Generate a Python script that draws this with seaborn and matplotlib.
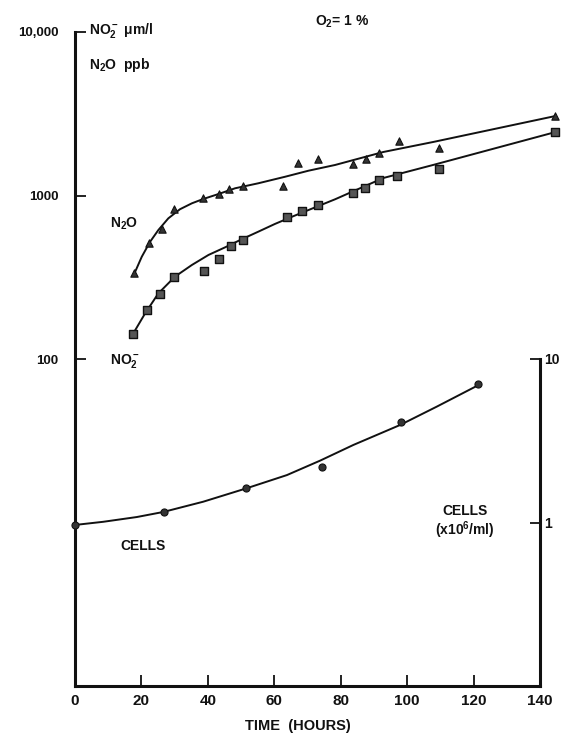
import matplotlib
matplotlib.use("Agg")
import matplotlib.pyplot as plt
import numpy as np
import pandas as pd
import seaborn as sns

# ---- measured points ----
n2o_time = [17.8, 22.3, 26.2, 29.8, 38.6, 43.4, 46.4, 50.6, 62.7, 67.2, 73.2,
            83.7, 87.7, 91.6, 97.6, 109.6, 144.6]
n2o_ppb = [336, 512, 624, 826, 966, 1021, 1096, 1143, 1143, 1582, 1673,
           1560, 1673, 1820, 2155, 1954, 3080]

no2_time = [17.5, 21.7, 25.6, 29.8, 38.9, 43.4, 47.0, 50.6, 63.9, 68.4, 73.2,
            83.7, 87.3, 91.6, 97.0, 109.6, 144.6]
no2_um = [142, 200, 250, 318, 345, 409, 491, 535, 740, 804, 875,
          1035, 1111, 1245, 1315, 1452, 2442]

cell_time = [0, 26.8, 51.4, 74.5, 98.1, 121.2]
cell_count = [0.97, 1.16, 1.62, 2.19, 4.14, 7.03]

# ---- hand-fitted curves through the points ----
n2o_fit_time = [17.9, 20.1, 22.6, 25.1, 28.1, 31.6, 35.2, 38.6, 43.2, 48.2,
                55.2, 63.3, 70.3, 78.3, 92.8, 107.8, 144.6]
n2o_fit_ppb = [334, 422, 521, 615, 725, 824, 896, 952, 1021, 1107,
               1188, 1303, 1418, 1537, 1845, 2124, 3062]

no2_fit_time = [17.6, 21.1, 25.1, 30.1, 35.2, 40.2, 45.2, 50.2, 55.2, 60.2,
                65.3, 70.3, 78.3, 92.8, 107.8, 144.6]
no2_fit_um = [144, 190, 252, 319, 376, 433, 482, 540, 601, 670,
              741, 815, 948, 1279, 1537, 2442]

cell_fit_time = [0, 8.5, 18.6, 26.6, 38.6, 51.7, 63.8, 73.8, 83.8, 97.9, 108.9, 121.5]
cell_fit_count = [0.966, 1.01, 1.08, 1.16, 1.34, 1.62, 1.95, 2.39, 2.98, 3.95, 5.11, 6.93]

x_ticks = [0, 20, 40, 60, 80, 100, 120, 140]
left_ticks = [100, 1000, 10000]
left_labels = ["100", "1000", "10,000"]
right_ticks = [1, 10]
right_labels = ["1", "10"]

sns.set_style("ticks")
plt.rcParams["font.family"] = ["Liberation Sans Narrow", "Liberation Sans", "DejaVu Sans"]
plt.rcParams["font.weight"] = "bold"
plt.rcParams["mathtext.default"] = "regular"

W, H = 562, 738
fig = plt.figure(figsize=(W / 100, H / 100), dpi=100)
fig.patch.set_facecolor("white")
ax = fig.add_axes([75 / W, 52 / H, 465 / W, 654 / H])
ax.set_facecolor("white")
ax2 = ax.twinx()

ink = "#111111"
lw = 1.4

# N2O and nitrite on the left scale
sns.lineplot(x=n2o_fit_time, y=n2o_fit_ppb, ax=ax, color=ink, lw=lw,
             sort=False, estimator=None, clip_on=False)
sns.lineplot(x=no2_fit_time, y=no2_fit_um, ax=ax, color=ink, lw=lw,
             sort=False, estimator=None, clip_on=False)
sns.scatterplot(x=n2o_time, y=n2o_ppb, ax=ax, marker="^", s=28,
                color="#333333", edgecolor=ink, linewidth=0.8, clip_on=False, zorder=5)
sns.scatterplot(x=no2_time, y=no2_um, ax=ax, marker="s", s=34,
                color="#555555", edgecolor=ink, linewidth=1.0, clip_on=False, zorder=5)

# cell counts on the right scale
sns.lineplot(x=cell_fit_time, y=cell_fit_count, ax=ax2, color=ink, lw=lw,
             sort=False, estimator=None, clip_on=False)
sns.scatterplot(x=cell_time, y=cell_count, ax=ax2, marker="o", s=26,
                color="#333333", edgecolor=ink, linewidth=0.8, clip_on=False, zorder=5)

for a in (ax, ax2):
    a.set_xlim(0, 140)
    a.set_yscale("log")
ax.set_ylim(1, 10000)
ax2.set_ylim(0.1, 1000)

ax.set_xticks(x_ticks)
ax.set_xticklabels([str(t) for t in x_ticks], fontsize=11, fontweight="bold")
ax.tick_params(axis="x", direction="in", length=8, width=1.3, pad=6, colors=ink)

ax.set_yticks(left_ticks)
ax.set_yticklabels(left_labels, fontsize=9.5, fontweight="bold")
ax.yaxis.set_minor_locator(matplotlib.ticker.NullLocator())
ax.tick_params(axis="y", direction="in", length=8, width=1.3, pad=12, colors=ink)

ax2.set_yticks(right_ticks)
ax2.set_yticklabels(right_labels, fontsize=10, fontweight="bold")
ax2.yaxis.set_minor_locator(matplotlib.ticker.NullLocator())
ax2.tick_params(axis="y", direction="in", length=7, width=1.3, pad=3, colors=ink)

for s in ("top", "right"):
    ax.spines[s].set_visible(False)
for s in ("top", "left", "bottom"):
    ax2.spines[s].set_visible(False)
ax.spines["left"].set_linewidth(2.2)
ax.spines["bottom"].set_linewidth(2.2)
ax2.spines["right"].set_linewidth(2.2)
ax2.spines["right"].set_bounds(0.1, 10)
for s in ("left", "bottom"):
    ax.spines[s].set_color(ink)
ax2.spines["right"].set_color(ink)

ax.set_xlabel("")
ax.set_ylabel("")
ax2.set_ylabel("")


def px(x, y):
    return x / W, 1 - y / H


txt = dict(color=ink, fontweight="bold")
fig.text(*px(89, 31), r"NO$_2^-$ $\mu$m/l", fontsize=10, va="center", ha="left", **txt)
fig.text(*px(89, 65), r"N$_2$O  ppb", fontsize=10, va="center", ha="left", **txt)
fig.text(*px(315, 22), r"O$_2$= 1 %", fontsize=10, va="center", ha="left", **txt)
fig.text(*px(110, 224), r"N$_2$O", fontsize=10, va="center", ha="left", **txt)
fig.text(*px(110, 361), r"NO$_2^-$", fontsize=10, va="center", ha="left", **txt)
fig.text(*px(143, 546), "CELLS", fontsize=10, va="center", ha="center", **txt)
fig.text(*px(465, 511), "CELLS", fontsize=10, va="center", ha="center", **txt)
fig.text(*px(465, 530), r"(x10$^6$/ml)", fontsize=10, va="center", ha="center", **txt)
fig.text(*px(298, 726), "TIME  (HOURS)", fontsize=10.5, va="center", ha="center", **txt)

fig.savefig("out.png", dpi=100, facecolor="white")
